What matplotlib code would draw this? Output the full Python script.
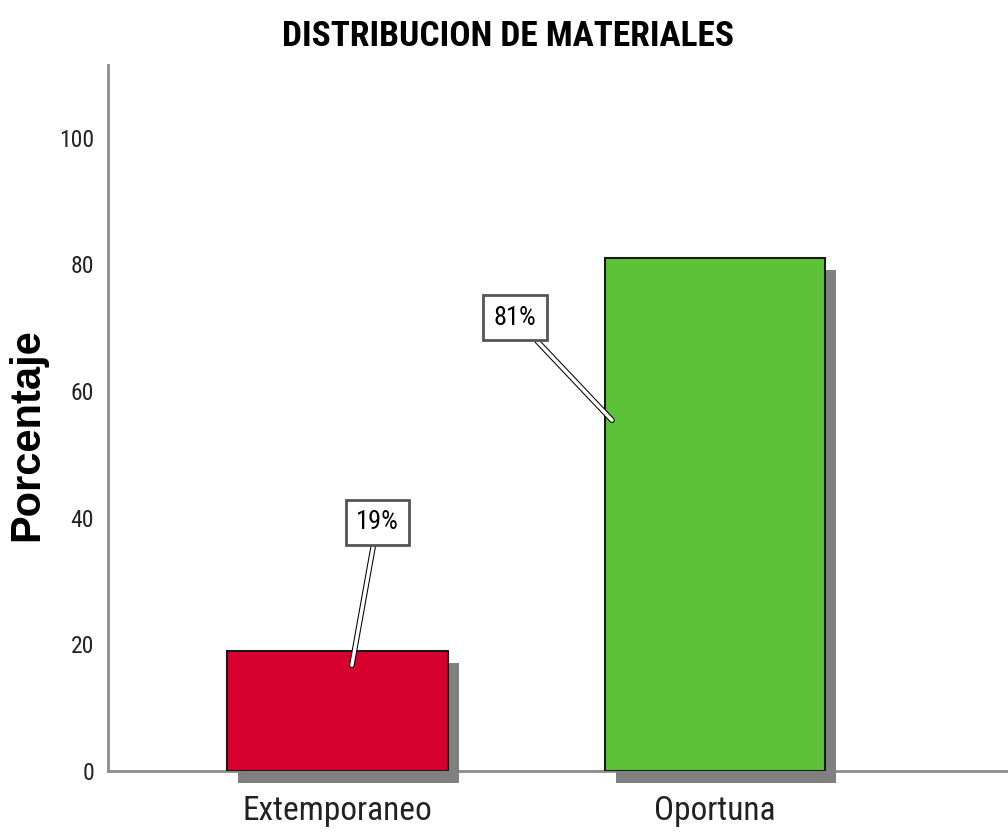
import matplotlib
matplotlib.use("Agg")
import matplotlib.pyplot as plt
from matplotlib.patches import Rectangle
import matplotlib.patheffects as pe
from matplotlib.transforms import ScaledTranslation

categories = ["Extemporaneo", "Oportuna"]
values = [19.0, 81.0]
colors = ["#d7002e", "#5cc237"]
yticks = [0, 20, 40, 60, 80, 100]
title = "DISTRIBUCION DE MATERIALES"
ylabel = "Porcentaje"

NARROW = ["Roboto Condensed", "DejaVu Sans"]

fig = plt.figure(figsize=(10.08, 8.36), dpi=100)
ax = fig.add_axes([108/1008, 65/836, 1 - 108/1008, (771-65)/836])

x = list(range(len(categories)))
width = 0.585
shadow = ScaledTranslation(11/100, -12/100, fig.dpi_scale_trans)
bars = ax.bar(x, values, width=width, color=colors, edgecolor="#1a1a1a",
              linewidth=1.5, zorder=3)
for b in bars:
    r = Rectangle((b.get_x(), b.get_y()), b.get_width(), b.get_height(),
                  facecolor="#808080", edgecolor="none", zorder=2,
                  transform=ax.transData + shadow, clip_on=False)
    ax.add_patch(r)

ax.set_xlim(-0.608, 1.776)
ax.set_ylim(0, 111.5)
ax.set_yticks(yticks)
ax.set_yticklabels([str(t) for t in yticks], family=NARROW, fontsize=17,
                   color="#222222")
ax.set_xticks(x)
ax.set_xticklabels(categories, family=NARROW, fontsize=24, color="#222222")
ax.tick_params(axis="both", length=0)
ax.tick_params(axis="y", pad=10)
ax.tick_params(axis="x", pad=17)
for s in ["top", "right"]:
    ax.spines[s].set_visible(False)
for s in ["left", "bottom"]:
    ax.spines[s].set_color("#8c8c8c")
    ax.spines[s].set_linewidth(2)
    ax.spines[s].set_zorder(1)

fig.text(508/1008, 1 - 37/836, title, ha="center", va="center",
         family=NARROW, fontweight="bold", fontsize=25.5)
fig.text(27/1008, 1 - 435/836, ylabel, ha="center", va="center", rotation=90,
         family=["Liberation Sans", "DejaVu Sans"], fontweight="bold", fontsize=30)

# labels with leader lines
label_pos = [(0.106, 39.3), (0.47, 71.6)]
point_pos = [(0.038, 16.7), (0.727, 55.4)]
for v, (tx, ty), (px, py) in zip(values, label_pos, point_pos):
    ax.annotate(f"{v:.0f}%", xy=(px, py), xytext=(tx, ty),
                ha="center", va="center", family=NARROW, fontsize=19,
                bbox=dict(boxstyle="square,pad=0.4", facecolor="white",
                          edgecolor="#555555", linewidth=2),
                arrowprops=dict(arrowstyle="-", color="black", lw=1,
                                shrinkA=0, shrinkB=0,
                                path_effects=[pe.Stroke(linewidth=4, foreground="black"),
                                              pe.Stroke(linewidth=2.5, foreground="white")]),
                zorder=5)

fig.savefig("out.png", dpi=100)
